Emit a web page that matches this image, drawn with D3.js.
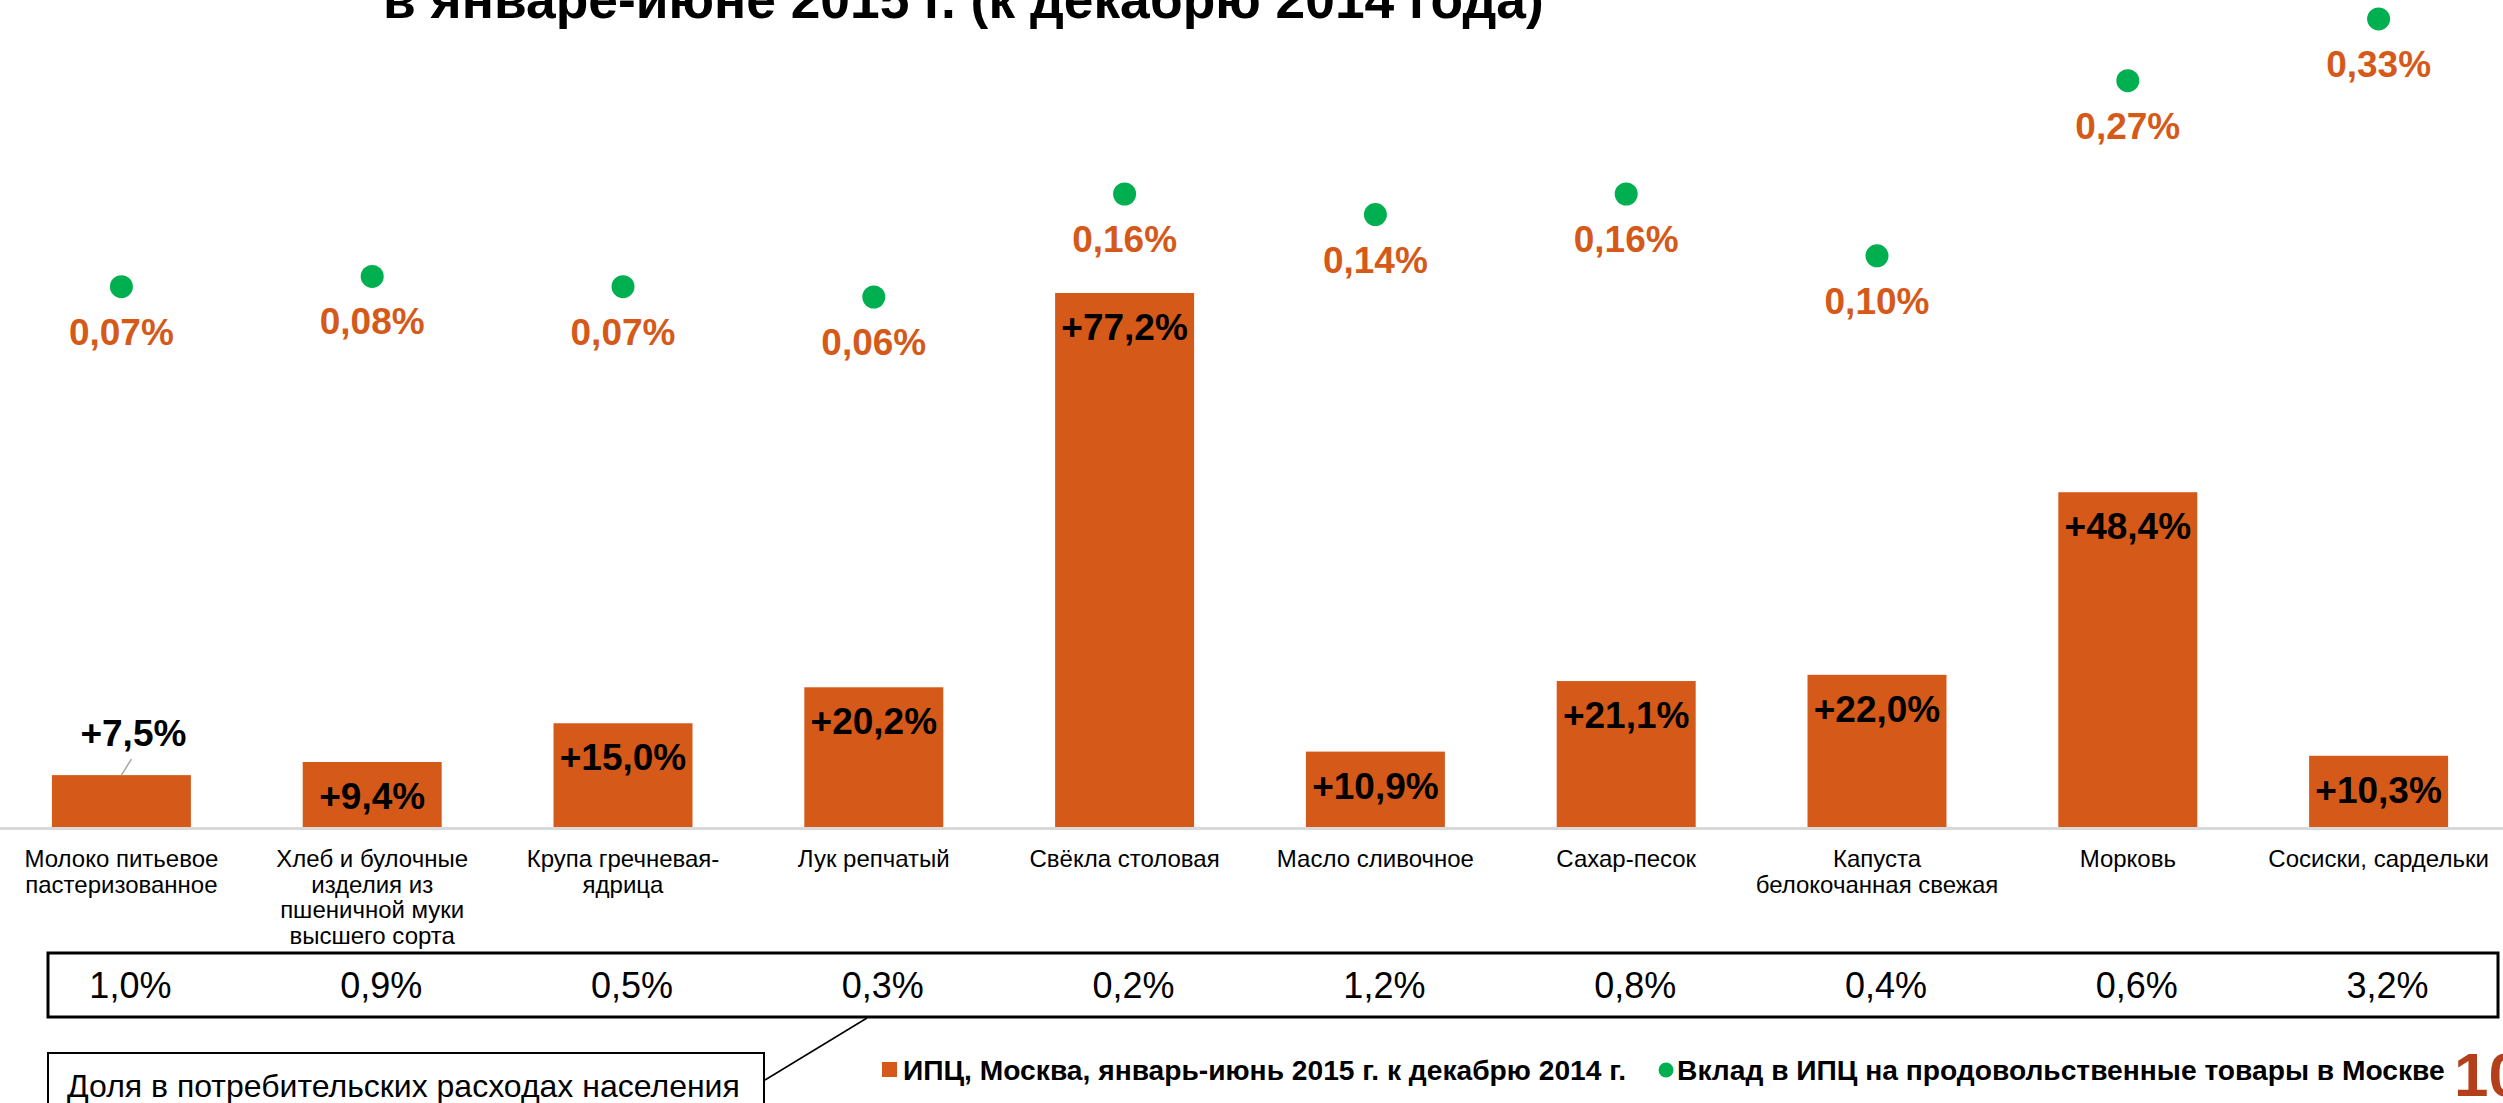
<!DOCTYPE html>
<html>
<head>
<meta charset="utf-8">
<script src="https://cdn.jsdelivr.net/npm/d3@7"></script>
<style>
  html, body { margin: 0; padding: 0; background: #fff; }
  svg text { font-family: "Liberation Sans", Arial, sans-serif; }
</style>
</head>
<body>
<div id="chart"></div>
<script>
const width = 2503;
const height = 1103;

// data
const categories = [
    "Молоко питьевое\nпастеризованное",
    "Хлеб и булочные\nизделия из\nпшеничной муки\nвысшего сорта",
    "Крупа гречневая-\nядрица",
    "Лук репчатый",
    "Свёкла столовая",
    "Масло сливочное",
    "Сахар-песок",
    "Капуста\nбелокочанная свежая",
    "Морковь",
    "Сосиски, сардельки"
];
const cpiGrowth = [7.5, 9.4, 15.0, 20.2, 77.2, 10.9, 21.1, 22.0, 48.4, 10.3];   // %
const cpiContribution = [0.07, 0.08, 0.07, 0.06, 0.16, 0.14, 0.16, 0.10, 0.27, 0.33]; // %
const expenseShare = ["1,0%", "0,9%", "0,5%", "0,3%", "0,2%", "1,2%", "0,8%", "0,4%", "0,6%", "3,2%"];

const titleText = "в январе-июне 2015 г. (к декабрю 2014 года)";
const seriesNames = [
    "ИПЦ, Москва, январь-июнь 2015 г. к декабрю 2014 г.",
    "Вклад в ИПЦ на продовольственные товары в Москве"
];
const calloutText = "Доля в потребительских расходах населения";
const pageNumber = "10";

const barColor = "#D55A1A";
const dotColor = "#00B050";

const fmt = v => v.toFixed(v < 1 ? 2 : 1).replace(".", ",");

const svg = d3.select("#chart").append("svg")
    .attr("xmlns", "http://www.w3.org/2000/svg")
    .attr("width", width)
    .attr("height", height);

const x = d3.scaleBand()
    .domain(d3.range(categories.length))
    .range([-4, 2504])
    .paddingInner(0.4458)
    .paddingOuter(0.2229);

const y = d3.scaleLinear().domain([0, 100]).range([827, 135.3]);
const y2 = d3.scaleLinear().domain([0, 0.35]).range([358.8, -1.7]);

const cx = i => x(i) + x.bandwidth() / 2;

// title (only its lower line is visible)
const title = svg.append("text")
    .attr("x", 383)
    .attr("y", 18)
    .style("font-weight", "bold")
    .style("font-size", "52px")
    .attr("fill", "#000")
    .text(titleText);
const tw = title.node().getComputedTextLength();
title.style("font-size", (52 * 1161 / tw) + "px");

// bars
svg.selectAll(".bar")
    .data(cpiGrowth)
    .enter()
    .append("rect")
    .attr("class", "bar")
    .attr("x", (d, i) => x(i))
    .attr("y", d => y(d))
    .attr("width", x.bandwidth())
    .attr("height", d => y(0) - y(d))
    .attr("fill", barColor);

// category axis line
svg.append("line")
    .attr("x1", 0).attr("x2", width)
    .attr("y1", y(0) + 1.5).attr("y2", y(0) + 1.5)
    .attr("stroke", "#D9D9D9")
    .attr("stroke-width", 3);

// bar labels
svg.selectAll(".barLabel")
    .data(cpiGrowth)
    .enter()
    .append("text")
    .attr("class", "barLabel")
    .attr("x", (d, i) => i === 0 ? cx(i) + 12 : cx(i))
    .attr("y", (d, i) => i === 0 ? y(d) - 29 : y(d) + 47)
    .attr("text-anchor", "middle")
    .style("font-weight", "bold")
    .style("font-size", "37px")
    .attr("fill", "#000")
    .text(d => "+" + fmt(d) + "%");

// leader line for the label that sits above its bar
svg.append("line")
    .attr("x1", cx(0) + 10).attr("y1", y(cpiGrowth[0]) - 16)
    .attr("x2", cx(0)).attr("y2", y(cpiGrowth[0]))
    .attr("stroke", "#A6A6A6")
    .attr("stroke-width", 1.5);

// contribution dots
svg.selectAll(".dot")
    .data(cpiContribution)
    .enter()
    .append("circle")
    .attr("class", "dot")
    .attr("cx", (d, i) => cx(i))
    .attr("cy", d => y2(d))
    .attr("r", 11.5)
    .attr("fill", dotColor);

svg.selectAll(".dotLabel")
    .data(cpiContribution)
    .enter()
    .append("text")
    .attr("class", "dotLabel")
    .attr("x", (d, i) => cx(i))
    .attr("y", d => y2(d) + 58)
    .attr("text-anchor", "middle")
    .style("font-weight", "bold")
    .style("font-size", "37px")
    .attr("fill", barColor)
    .text(d => fmt(d) + "%");

// category labels
const catLabels = svg.selectAll(".cat")
    .data(categories)
    .enter()
    .append("text")
    .attr("class", "cat")
    .attr("text-anchor", "middle")
    .style("font-size", "24px")
    .attr("fill", "#000");
catLabels.each(function (d, i) {
    d3.select(this).selectAll("tspan")
        .data(d.split("\n"))
        .enter()
        .append("tspan")
        .attr("x", cx(i))
        .attr("y", (l, j) => 867 + j * 25.5)
        .text(l => l);
});

// expense share table
svg.append("rect")
    .attr("x", 48).attr("y", 953)
    .attr("width", 2450).attr("height", 64)
    .attr("fill", "none")
    .attr("stroke", "#000")
    .attr("stroke-width", 3);

svg.selectAll(".share")
    .data(expenseShare)
    .enter()
    .append("text")
    .attr("class", "share")
    .attr("x", (d, i) => cx(i) + 9)
    .attr("y", 998)
    .attr("text-anchor", "middle")
    .style("font-size", "36px")
    .attr("fill", "#000")
    .text(d => d);

// callout
svg.append("line")
    .attr("x1", 765).attr("y1", 1080)
    .attr("x2", 867).attr("y2", 1018)
    .attr("stroke", "#000")
    .attr("stroke-width", 1.5);
svg.append("rect")
    .attr("x", 48).attr("y", 1053)
    .attr("width", 716).attr("height", 70)
    .attr("fill", "#fff")
    .attr("stroke", "#000")
    .attr("stroke-width", 2);
svg.append("text")
    .attr("x", 67).attr("y", 1097)
    .style("font-size", "32px")
    .attr("fill", "#000")
    .text(calloutText);

// legend
const legend = svg.append("g");
legend.append("rect")
    .attr("x", 882).attr("y", 1062)
    .attr("width", 15).attr("height", 15)
    .attr("fill", barColor);
const leg1 = legend.append("text")
    .attr("x", 903).attr("y", 1080)
    .style("font-weight", "bold")
    .style("font-size", "28.2px")
    .attr("fill", "#000")
    .text(seriesNames[0]);
const leg1End = 903 + leg1.node().getComputedTextLength();
legend.append("circle")
    .attr("cx", leg1End + 40).attr("cy", 1070)
    .attr("r", 7.5)
    .attr("fill", dotColor);
legend.append("text")
    .attr("x", leg1End + 51).attr("y", 1080)
    .style("font-weight", "bold")
    .style("font-size", "28.2px")
    .attr("fill", "#000")
    .text(seriesNames[1]);

// page number
svg.append("text")
    .attr("x", 2454).attr("y", 1096)
    .style("font-weight", "bold")
    .style("font-size", "62px")
    .attr("fill", "#B3401A")
    .text(pageNumber);
</script>
</body>
</html>
